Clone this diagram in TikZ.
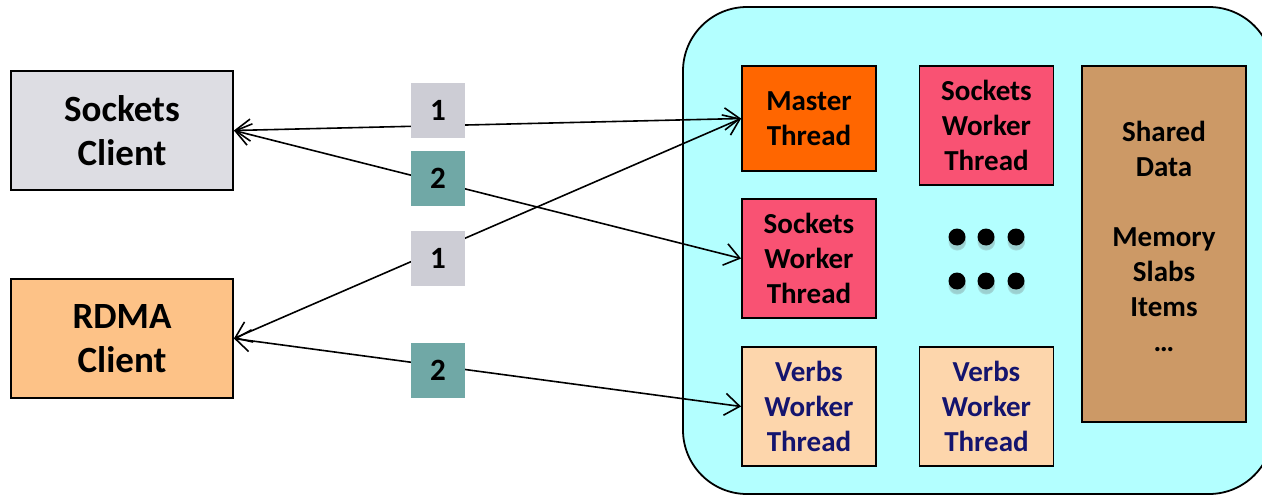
\documentclass[tikz,border=0pt]{standalone}
\usepackage{fontspec}
\setmainfont{Carlito}
\usetikzlibrary{arrows.meta,shadows}
\definecolor{sockc}{HTML}{DDDDE3}
\definecolor{rdmac}{HTML}{FDC287}
\definecolor{labone}{HTML}{CDCDD5}
\definecolor{labtwo}{HTML}{70A8A6}
\definecolor{serverbg}{HTML}{B3FFFF}
\definecolor{masterc}{HTML}{FF6600}
\definecolor{sworkc}{HTML}{F95273}
\definecolor{vworkc}{HTML}{FDD6AC}
\definecolor{verbtext}{HTML}{14146E}
\definecolor{sharedc}{HTML}{CC9966}
\begin{document}
\begin{tikzpicture}[x=1pt,y=-1pt,
  box/.style={draw=black, line width=1.8pt, inner sep=0pt, align=center,
    font=\bfseries\fontsize{29}{35}\selectfont},
  client/.style={box, minimum width=222pt, minimum height=119pt,
    font=\bfseries\fontsize{37}{44}\selectfont},
  thread/.style={box, minimum width=134pt, minimum height=119pt},
  numlabel/.style={inner sep=0pt, minimum width=54pt, minimum height=55pt,
    font=\bfseries\fontsize{31}{34}\selectfont},
  conn/.style={line width=1.6pt,
    {Straight Barb[length=15pt,width=22pt]}-{Straight Barb[length=15pt,width=22pt]}},
  dot/.style={circle, fill=black, inner sep=0pt, minimum size=17pt,
    circular drop shadow={shadow xshift=0pt, shadow yshift=-4pt, opacity=0.3, fill=black!60}}
]
\useasboundingbox (0,0) rectangle (1262,495);
\clip (0,0) rectangle (1262,495);

% server area
\node[draw=black, line width=1.8pt, fill=serverbg, rounded corners=64pt,
  minimum width=590pt, minimum height=487pt, inner sep=0pt] (server) at (978,250.5) {};

% clients
\node[client, fill=sockc] (sc) at (122,130.5) {Sockets\\Client};
\node[client, fill=rdmac] (rc) at (122,338.5) {RDMA\\Client};

% threads
\node[box, fill=masterc, minimum width=134pt, minimum height=105pt] (mt) at (809,118.5) {Master\\Thread};
\node[thread, fill=sworkc] (sw1) at (986.5,125.5) {Sockets\\Worker\\Thread};
\node[thread, fill=sworkc] (sw2) at (809,258.5) {Sockets\\Worker\\Thread};
\node[thread, fill=vworkc, text=verbtext] (vw1) at (809,406.5) {Verbs\\Worker\\Thread};
\node[thread, fill=vworkc, text=verbtext] (vw2) at (986.5,406.5) {Verbs\\Worker\\Thread};

% shared data
\node[box, fill=sharedc, minimum width=164pt, minimum height=356pt] (sd) at (1164,244) {};
\node[align=center, inner sep=0pt, font=\bfseries\fontsize{29}{35}\selectfont] (sdtext) at (1164,236)
  {Shared\\Data\\[35pt]Memory\\Slabs\\Items\\…};

% dots
\node[dot] (d1) at (957,237) {};
\node[dot] (d2) at (986,237) {};
\node[dot] (d3) at (1016,237) {};
\node[dot] (d4) at (957,281) {};
\node[dot] (d5) at (986,281) {};
\node[dot] (d6) at (1016,281) {};

% connectors
\draw[conn] (sc.east) -- (mt.west);
\draw[conn] (sc.east) -- (sw2.west);
\draw[conn] (rc.east) -- (mt.west);
\draw[conn] (rc.east) -- (vw1.west);

% step labels
\node[numlabel, fill=labone] (l1a) at (438,110.5) {1};
\node[numlabel, fill=labtwo] (l2a) at (438,178.5) {2};
\node[numlabel, fill=labone] (l1b) at (438,258.5) {1};
\node[numlabel, fill=labtwo] (l2b) at (438,370.5) {2};
\end{tikzpicture}
\end{document}
